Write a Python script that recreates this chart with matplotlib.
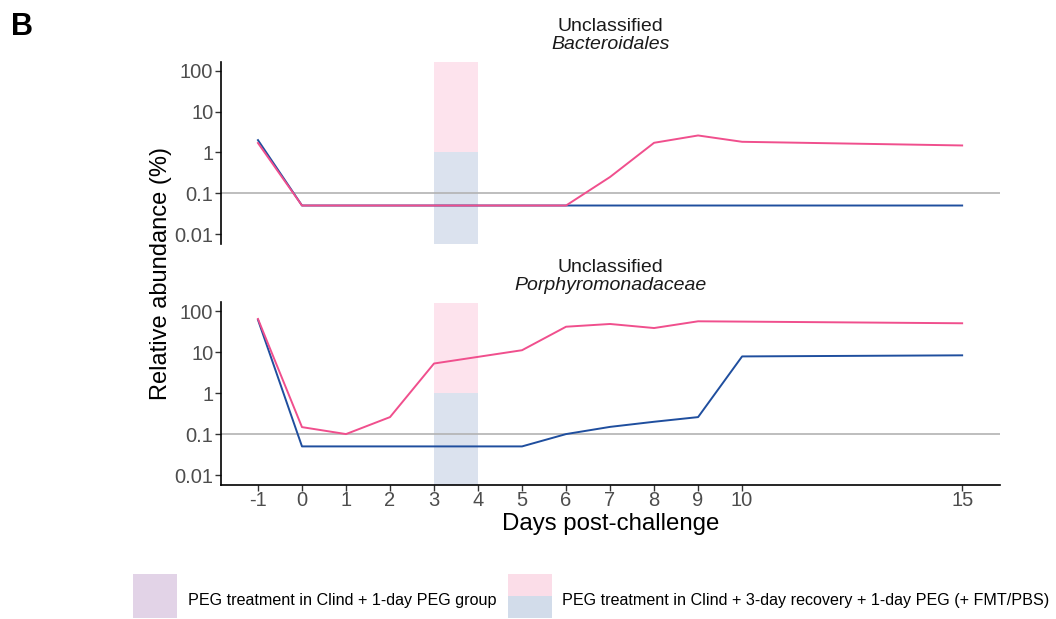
import numpy as np
import matplotlib
matplotlib.use("Agg")
import matplotlib.pyplot as plt
from matplotlib.patches import Rectangle
from matplotlib.ticker import FixedLocator, FixedFormatter
from matplotlib.transforms import offset_copy

plt.rcParams['font.family'] = ['Liberation Sans', 'DejaVu Sans']

# ---- data ----
days = [-1, 0, 1, 2, 3, 5, 6, 7, 8, 9, 10, 15]
bact_blue = [2.0, 0.05, 0.05, 0.05, 0.05, 0.05, 0.05, 0.05, 0.05, 0.05, 0.05, 0.05]
bact_pink = [1.7, 0.05, 0.05, 0.05, 0.05, 0.05, 0.05, 0.25, 1.72, 2.6, 1.82, 1.48]
porph_blue = [62, 0.05, 0.05, 0.05, 0.05, 0.05, 0.1, 0.15, 0.2, 0.26, 7.9, 8.4]
porph_pink = [65, 0.148, 0.1, 0.26, 5.3, 11.2, 42, 49, 39, 57, 56, 51]

panel_titles = ["Bacteroidales", "Porphyromonadaceae"]
xticks = [-1, 0, 1, 2, 3, 4, 5, 6, 7, 8, 9, 10, 15]
yticks = [0.01, 0.1, 1, 10, 100]
ytick_labels = ["0.01", "0.1", "1", "10", "100"]
threshold = 0.1
peg_window = (3, 4)
legend_labels = ["PEG treatment in Clind + 1-day PEG group",
                 "PEG treatment in Clind + 3-day recovery + 1-day PEG (+ FMT/PBS)"]

BLUE = '#1f4e9e'
PINK = '#f04f8d'
RECT_PINK = '#fde3ed'
RECT_BLUE = '#dbe2ee'
LEG_PURPLE = '#e2d3e7'
LEG_PINK = '#fbdde8'
LEG_BLUE = '#d2dcea'
TICKCOL = '#4d4d4d'

W, H = 1056, 619
fig = plt.figure(figsize=(W / 100, H / 100), dpi=100)

def fx(px):
    return px / W

def fy(py):
    return 1 - py / H

ylo, yhi = 10 ** -2.244, 10 ** 2.215
xlo, xhi = -1.84, 15.86
split = (0 - np.log10(ylo)) / (np.log10(yhi) - np.log10(ylo))

ax_top = fig.add_axes([fx(221), fy(244), fx(1000) - fx(221), fy(62) - fy(244)])
ax_bot = fig.add_axes([fx(221), fy(485), fx(1000) - fx(221), fy(302.5) - fy(485)])

series = [(ax_top, bact_blue, bact_pink), (ax_bot, porph_blue, porph_pink)]
for i, (ax, b, p) in enumerate(series):
    ax.set_yscale('log')
    ax.set_xlim(xlo, xhi)
    ax.set_ylim(ylo, yhi)
    ax.axvspan(peg_window[0], peg_window[1], ymin=0, ymax=split,
               color=RECT_BLUE, lw=0, zorder=0)
    ax.axvspan(peg_window[0], peg_window[1], ymin=split, ymax=1,
               color=RECT_PINK, lw=0, zorder=0)
    ax.axhline(threshold, color='#b3b3b3', lw=1.2, zorder=1)
    ax.plot(days, b, color=BLUE, lw=1.4, zorder=3)
    ax.plot(days, p, color=PINK, lw=1.4, zorder=4)
    ax.yaxis.set_major_locator(FixedLocator(yticks))
    ax.yaxis.set_major_formatter(FixedFormatter(ytick_labels))
    ax.yaxis.set_minor_locator(FixedLocator([]))
    ax.tick_params(axis='y', labelsize=14.5, labelcolor=TICKCOL, color='#333333',
                   length=4, width=1.0, pad=1.5)
    for s in ['top', 'right']:
        ax.spines[s].set_visible(False)
    ax.spines['left'].set_linewidth(1.2)
    ax.spines['bottom'].set_linewidth(1.2)
    ax.patch.set_alpha(0)
    ax.text(0.5, 1.0, "Unclassified", ha='center', va='bottom', fontsize=14,
            color='#1a1a1a',
            transform=offset_copy(ax.transAxes, fig=fig, y=27, units='dots'))
    ax.text(0.5, 1.0, panel_titles[i], ha='center', va='bottom', fontsize=14,
            style='italic', color='#1a1a1a',
            transform=offset_copy(ax.transAxes, fig=fig, y=9, units='dots'))

ax_top.spines['bottom'].set_visible(False)
ax_top.set_xticks([])
ax_bot.set_xticks(xticks)
ax_bot.set_xticklabels([str(x) for x in xticks])
ax_bot.tick_params(axis='x', labelsize=14.5, labelcolor=TICKCOL, color='#333333',
                   length=4, width=1.0, pad=0.5)
ax_bot.set_xlabel("Days post-challenge", fontsize=17.3, labelpad=2)

fig.text(fx(161), fy(274), "Relative abundance (%)", rotation=90, fontsize=17,
         ha='center', va='center')
fig.text(fx(11), fy(27), "B", fontsize=22, fontweight='bold', ha='left', va='center')

# legend
k = 44
fig.add_artist(Rectangle((fx(133), fy(618)), fx(k), fy(574) - fy(618),
                         transform=fig.transFigure, color=LEG_PURPLE, lw=0))
fig.text(fx(188), fy(600), legend_labels[0], fontsize=11.6, ha='left', va='center')
fig.add_artist(Rectangle((fx(508), fy(596)), fx(k), fy(574) - fy(596),
                         transform=fig.transFigure, color=LEG_PINK, lw=0))
fig.add_artist(Rectangle((fx(508), fy(618)), fx(k), fy(596) - fy(618),
                         transform=fig.transFigure, color=LEG_BLUE, lw=0))
fig.text(fx(562), fy(600), legend_labels[1], fontsize=11.6, ha='left', va='center')

fig.savefig("out.png", dpi=100)
